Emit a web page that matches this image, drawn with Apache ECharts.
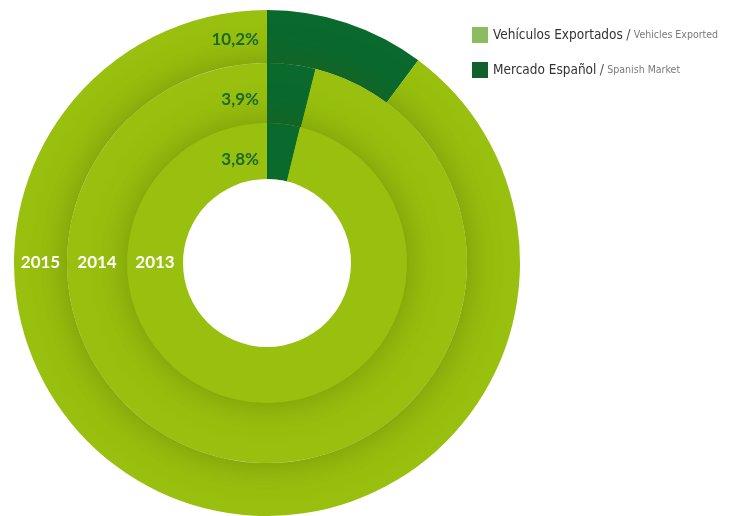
<!DOCTYPE html>
<html>
<head>
<meta charset="utf-8">
<script src="https://cdn.jsdelivr.net/npm/echarts@6/dist/echarts.min.js"></script>
<style>
  html, body { margin: 0; padding: 0; background: #ffffff; }
  #chart { width: 735px; height: 516px; }
</style>
</head>
<body>
<div id="chart"></div>
<script>
// Share of production sold on the Spanish market, by year (inner ring first)
const years = ['2013', '2014', '2015'];
const spanishShare = [3.8, 3.9, 10.2];
const seriesNames = ['Mercado Español', 'Vehículos Exportados'];
const seriesNamesEn = ['Spanish Market', 'Vehicles Exported'];

const CX = 267, CY = 263;
const ringRadii = [[84, 140], [140, 200], [200, 253]];
const lightGreen = '#99c00e';
const darkGreen = '#0a6a2e';

const chart = echarts.init(document.getElementById('chart'), null, { renderer: 'canvas' });

const fmt = v => v.toFixed(1).replace('.', ',') + '%';

const series = [];
// outermost ring drawn first; each inner ring is preceded by a disc, hidden
// under the ring itself, that casts a soft shadow onto the ring just outside
for (let i = years.length - 1; i >= 0; i--) {
  const [r0, r1] = ringRadii[i];
  if (i < years.length - 1) {
    series.push({
      type: 'pie', silent: true, center: [CX, CY], radius: [0, r1 - 2],
      label: { show: false }, labelLine: { show: false },
      itemStyle: { color: lightGreen, shadowBlur: 38, shadowColor: 'rgba(60,80,0,0.42)' },
      data: [{ name: 'disc' + years[i], value: 1 }]
    });
  }
  series.push({
    type: 'pie', name: years[i], silent: true, center: [CX, CY], radius: [r0, r1],
    startAngle: 90, clockwise: true,
    label: { show: false }, labelLine: { show: false },
    itemStyle: { borderWidth: 0 },
    data: [
      { name: seriesNames[0], value: spanishShare[i], itemStyle: { color: darkGreen } },
      { name: seriesNames[1], value: +(100 - spanishShare[i]).toFixed(1), itemStyle: { color: lightGreen } }
    ]
  });
}
// white centre of the innermost ring
series.push({
  type: 'pie', silent: true, center: [CX, CY], radius: [0, ringRadii[0][0]],
  label: { show: false }, labelLine: { show: false },
  itemStyle: { color: '#ffffff' },
  data: [{ name: 'hole', value: 1 }]
});

// year labels on the left of each ring, share labels beside the dark slices
const labelFont = 'Lato, "DejaVu Sans", sans-serif';
const shareLabelY = [160, 100, 40];
const graphics = [];
years.forEach((y, i) => {
  const mid = (ringRadii[i][0] + ringRadii[i][1]) / 2;
  graphics.push({
    type: 'text', x: CX - mid, y: CY, z: 100,
    style: { text: y, fill: '#ffffff', font: 'bold 17px ' + labelFont, align: 'center', verticalAlign: 'middle' }
  });
  graphics.push({
    type: 'text', x: CX - 8, y: shareLabelY[i], z: 100,
    style: { text: fmt(spanishShare[i]), fill: '#1b6a2c', font: 'bold 17px ' + labelFont, align: 'right', verticalAlign: 'middle' }
  });
});

chart.setOption({
  animation: false,
  backgroundColor: '#ffffff',
  legend: {
    orient: 'vertical', left: 467, top: 22, itemWidth: 16, itemHeight: 16, itemGap: 19,
    icon: 'rect', selectedMode: false,
    data: [
      { name: seriesNames[1], itemStyle: { color: '#8dbb5f' } },
      { name: seriesNames[0], itemStyle: { color: '#13602d' } }
    ],
    formatter: name => {
      const en = seriesNamesEn[seriesNames.indexOf(name)];
      return '{a|' + name + '} {s|/} {b|' + en + '}';
    },
    textStyle: {
      rich: {
        a: { fontFamily: '"DejaVu Sans Condensed", "Open Sans", sans-serif', fontSize: 13.5, color: '#333333' },
        s: { fontFamily: '"DejaVu Sans Condensed", sans-serif', fontSize: 14, color: '#555555' },
        b: { fontFamily: '"DejaVu Sans Condensed", "Liberation Sans Narrow", sans-serif', fontSize: 10.5, color: '#7a7a7a' }
      }
    }
  },
  series: series,
  graphic: graphics
});
</script>
</body>
</html>
